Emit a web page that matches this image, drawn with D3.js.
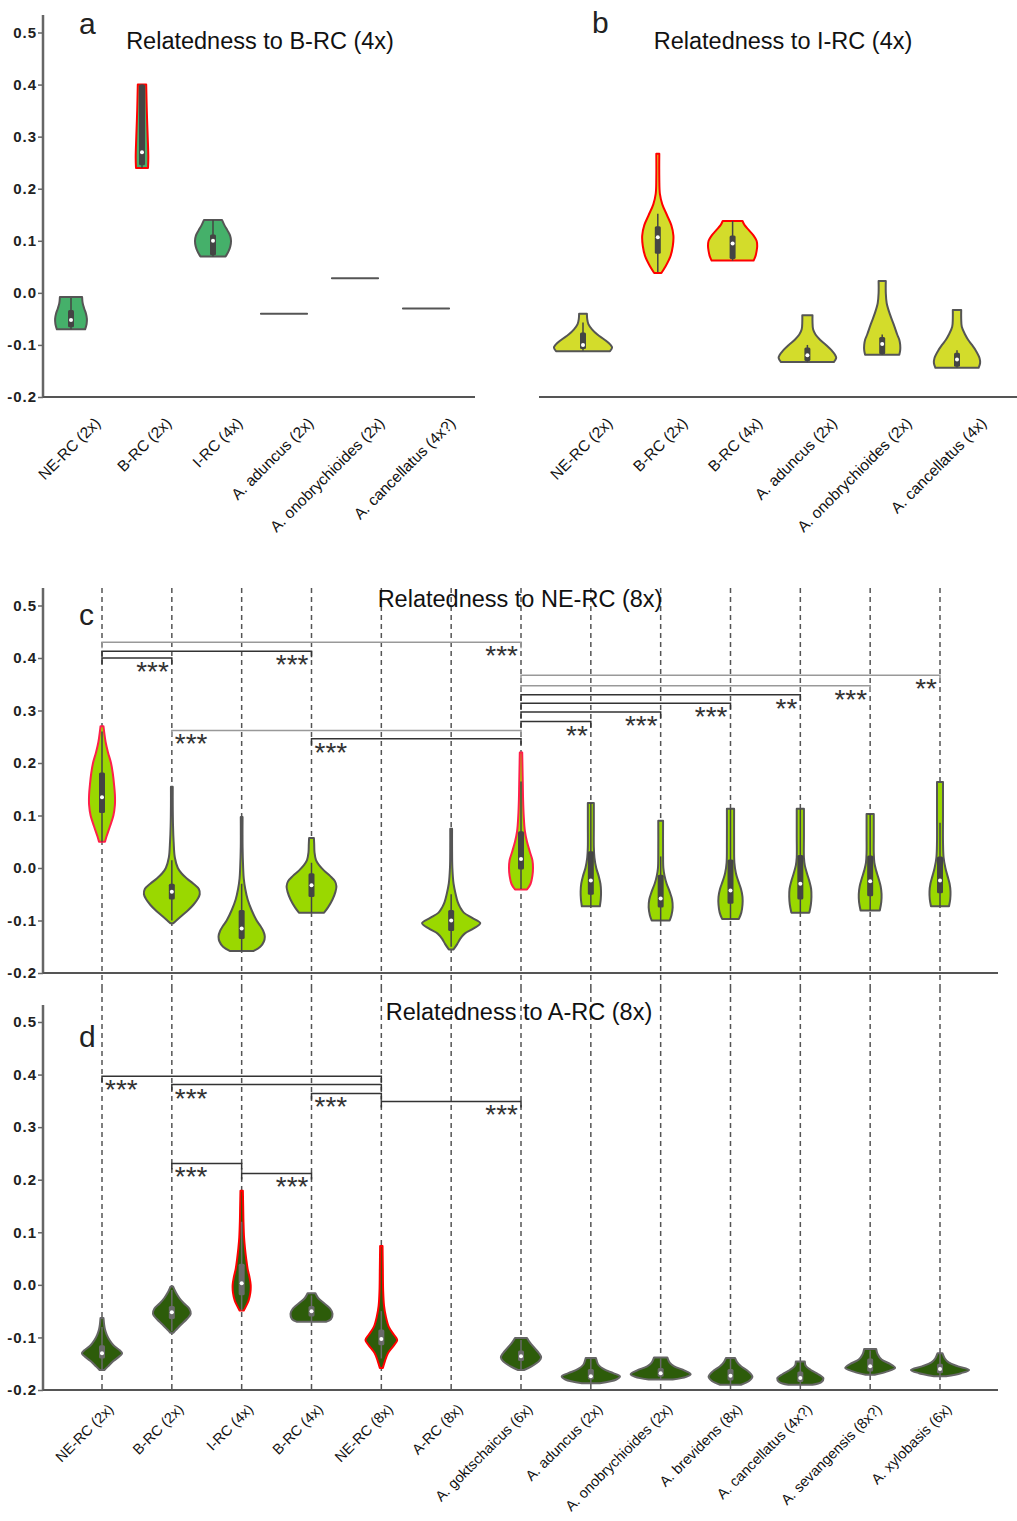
<!DOCTYPE html>
<html>
<head>
<meta charset="utf-8">
<script src="https://cdn.jsdelivr.net/npm/d3@7"></script>
<style>
  body { margin: 0; background: #fff; }
  text { font-family: Arial, "Liberation Sans", sans-serif; }
</style>
</head>
<body>
<svg id="chart" width="1017" height="1521"></svg>
<script>
// ---- data ----
const yTicks = [-0.2, -0.1, 0.0, 0.1, 0.2, 0.3, 0.4, 0.5];

// panel a : relatedness to B-RC (4x)
const aCats = ["NE-RC (2x)", "B-RC (2x)", "I-RC (4x)", "A. aduncus (2x)", "A. onobrychioides (2x)", "A. cancellatus (4x?)"];
const aMed = [-0.052, 0.27, 0.1, -0.04, 0.028, -0.03];
const aQ1 = [-0.066, 0.245, 0.072, null, null, null];
const aQ3 = [-0.033, 0.4, 0.112, null, null, null];
const aLo = [-0.07, 0.24, 0.07, null, null, null];
const aHi = [-0.01, 0.4, 0.14, null, null, null];
const aSelf = [false, true, false, false, false, false];
const aDensity = [
  [[-0.07, 0.47], [-0.06, 0.52], [-0.05, 0.53], [-0.04, 0.5], [-0.03, 0.44], [-0.02, 0.39], [-0.008, 0.37]],
  [[0.24, 0.2], [0.26, 0.21], [0.3, 0.19], [0.35, 0.16], [0.4, 0.14]],
  [[0.07, 0.42], [0.08, 0.52], [0.09, 0.58], [0.1, 0.6], [0.11, 0.57], [0.12, 0.48], [0.13, 0.38], [0.14, 0.3]],
  [[-0.04, 0.77], [-0.04, 0.77]],
  [[0.028, 0.77], [0.028, 0.77]],
  [[-0.03, 0.77], [-0.03, 0.77]]
];

// panel b : relatedness to I-RC (4x)
const bCats = ["NE-RC (2x)", "B-RC (2x)", "B-RC (4x)", "A. aduncus (2x)", "A. onobrychioides (2x)", "A. cancellatus (4x)"];
const bMed = [-0.1, 0.107, 0.095, -0.12, -0.098, -0.128];
const bQ1 = [-0.108, 0.075, 0.065, -0.131, -0.118, -0.142];
const bQ3 = [-0.076, 0.128, 0.11, -0.105, -0.085, -0.115];
const bLo = [-0.111, 0.04, 0.062, -0.133, -0.119, -0.144];
const bHi = [-0.057, 0.152, 0.138, -0.1, -0.08, -0.11];
const bSelf = [false, true, true, false, false, false];
const bDensity = [
  [[-0.112, 0.9], [-0.105, 0.97], [-0.1, 0.92], [-0.09, 0.72], [-0.08, 0.48], [-0.07, 0.3], [-0.06, 0.18], [-0.05, 0.14], [-0.04, 0.13]],
  [[0.038, 0.12], [0.05, 0.25], [0.07, 0.42], [0.09, 0.5], [0.11, 0.52], [0.13, 0.45], [0.15, 0.3], [0.17, 0.15], [0.19, 0.07], [0.22, 0.05], [0.267, 0.05]],
  [[0.062, 0.7], [0.07, 0.76], [0.08, 0.8], [0.09, 0.82], [0.1, 0.8], [0.11, 0.7], [0.12, 0.55], [0.13, 0.4], [0.138, 0.33]],
  [[-0.133, 0.88], [-0.125, 0.96], [-0.12, 0.93], [-0.11, 0.8], [-0.1, 0.62], [-0.09, 0.42], [-0.08, 0.27], [-0.07, 0.19], [-0.055, 0.17], [-0.043, 0.17]],
  [[-0.119, 0.57], [-0.11, 0.6], [-0.1, 0.6], [-0.09, 0.57], [-0.08, 0.5], [-0.06, 0.38], [-0.04, 0.25], [-0.02, 0.15], [0.0, 0.12], [0.023, 0.12]],
  [[-0.144, 0.72], [-0.135, 0.77], [-0.125, 0.75], [-0.11, 0.62], [-0.1, 0.5], [-0.09, 0.37], [-0.08, 0.27], [-0.065, 0.16], [-0.05, 0.14], [-0.033, 0.14]]
];

// panels c and d share the categories
const relCats = ["NE-RC (2x)", "B-RC (2x)", "I-RC (4x)", "B-RC (4x)", "NE-RC (8x)", "A-RC (8x)", "A. goktschaicus (6x)",
  "A. aduncus (2x)", "A. onobrychioides (2x)", "A. brevidens (8x)", "A. cancellatus (4x?)", "A. sevangensis (8x?)", "A. xylobasis (6x)"];

// panel c : relatedness to NE-RC (8x)
const cMed = [0.135, -0.045, -0.115, -0.033, null, -0.1, 0.017, -0.024, -0.058, -0.043, -0.03, -0.025, -0.024];
const cQ1 = [0.105, -0.06, -0.135, -0.055, null, -0.12, -0.003, -0.051, -0.075, -0.068, -0.06, -0.054, -0.048];
const cQ3 = [0.182, -0.03, -0.08, -0.01, null, -0.08, 0.07, 0.032, -0.013, 0.016, 0.025, 0.024, 0.022];
const cLo = [0.05, -0.1, -0.158, -0.085, null, -0.15, -0.04, -0.073, -0.1, -0.097, -0.085, -0.081, -0.073];
const cHi = [0.26, 0.015, -0.03, 0.01, null, -0.05, 0.165, 0.124, 0.022, 0.113, 0.113, 0.103, 0.086];
const cSelf = [true, false, false, false, false, false, true, false, false, false, false, false, false];
const cDensity = [
  [[0.05, 0.1], [0.06, 0.15], [0.08, 0.27], [0.1, 0.38], [0.12, 0.43], [0.14, 0.43], [0.16, 0.4], [0.18, 0.36], [0.2, 0.3], [0.22, 0.2], [0.24, 0.12], [0.26, 0.07], [0.27, 0.05]],
  [[-0.105, 0.05], [-0.1, 0.15], [-0.09, 0.35], [-0.08, 0.55], [-0.07, 0.72], [-0.06, 0.85], [-0.05, 0.93], [-0.04, 0.9], [-0.03, 0.72], [-0.02, 0.5], [-0.01, 0.32], [0.0, 0.2], [0.02, 0.1], [0.05, 0.06], [0.08, 0.04], [0.12, 0.03], [0.155, 0.03]],
  [[-0.158, 0.4], [-0.15, 0.62], [-0.14, 0.74], [-0.13, 0.77], [-0.12, 0.72], [-0.11, 0.62], [-0.1, 0.5], [-0.08, 0.33], [-0.06, 0.2], [-0.04, 0.12], [-0.02, 0.07], [0.0, 0.05], [0.04, 0.03], [0.097, 0.03]],
  [[-0.085, 0.42], [-0.075, 0.55], [-0.06, 0.7], [-0.045, 0.8], [-0.035, 0.83], [-0.025, 0.78], [-0.015, 0.62], [-0.005, 0.42], [0.005, 0.26], [0.015, 0.15], [0.03, 0.1], [0.045, 0.09], [0.057, 0.08]],
  null,
  [[-0.155, 0.08], [-0.145, 0.2], [-0.135, 0.3], [-0.125, 0.45], [-0.115, 0.75], [-0.105, 0.97], [-0.095, 0.7], [-0.085, 0.42], [-0.075, 0.3], [-0.065, 0.22], [-0.05, 0.15], [-0.03, 0.08], [0.0, 0.04], [0.04, 0.03], [0.075, 0.03]],
  [[-0.041, 0.2], [-0.03, 0.32], [-0.015, 0.38], [0.0, 0.4], [0.015, 0.38], [0.03, 0.3], [0.05, 0.2], [0.07, 0.13], [0.1, 0.09], [0.13, 0.07], [0.16, 0.06], [0.19, 0.05], [0.22, 0.04]],
  [[-0.073, 0.3], [-0.06, 0.33], [-0.045, 0.34], [-0.03, 0.32], [-0.015, 0.26], [0.0, 0.18], [0.02, 0.12], [0.04, 0.1], [0.08, 0.1], [0.124, 0.1]],
  [[-0.1, 0.3], [-0.09, 0.36], [-0.075, 0.4], [-0.06, 0.38], [-0.045, 0.3], [-0.03, 0.2], [-0.015, 0.13], [0.0, 0.09], [0.03, 0.08], [0.09, 0.08]],
  [[-0.097, 0.28], [-0.085, 0.36], [-0.07, 0.4], [-0.055, 0.4], [-0.04, 0.35], [-0.025, 0.26], [-0.01, 0.18], [0.01, 0.13], [0.05, 0.12], [0.113, 0.12]],
  [[-0.085, 0.3], [-0.07, 0.35], [-0.055, 0.37], [-0.04, 0.36], [-0.025, 0.3], [-0.01, 0.22], [0.005, 0.15], [0.02, 0.12], [0.06, 0.12], [0.113, 0.12]],
  [[-0.081, 0.32], [-0.065, 0.37], [-0.05, 0.38], [-0.035, 0.35], [-0.02, 0.28], [-0.005, 0.2], [0.01, 0.14], [0.03, 0.12], [0.06, 0.12], [0.103, 0.12]],
  [[-0.073, 0.3], [-0.06, 0.34], [-0.045, 0.35], [-0.03, 0.32], [-0.015, 0.25], [0.0, 0.18], [0.02, 0.12], [0.05, 0.1], [0.1, 0.1], [0.164, 0.1]]
];
// [from, to, height, stars, label side, faint]
const cBrackets = [
  [0, 1, 0.400, "***", "R", false], [0, 3, 0.413, "***", "R", false], [0, 6, 0.430, "***", "R", true],
  [1, 6, 0.262, "***", "L", true], [3, 6, 0.246, "***", "L", false],
  [6, 7, 0.279, "**", "R", false], [6, 8, 0.297, "***", "R", false], [6, 9, 0.314, "***", "R", false],
  [6, 10, 0.330, "**", "R", false], [6, 11, 0.347, "***", "R", true], [6, 12, 0.367, "**", "R", true]
];

// panel d : relatedness to A-RC (8x)
const dMed = [-0.13, -0.052, 0.003, -0.05, -0.103, null, -0.136, -0.174, -0.168, -0.173, -0.177, -0.155, -0.16];
const dQ1 = [-0.14, -0.065, -0.02, -0.06, -0.115, null, -0.145, -0.18, -0.175, -0.182, -0.185, -0.165, -0.168];
const dQ3 = [-0.115, -0.04, 0.04, -0.04, -0.085, null, -0.125, -0.16, -0.158, -0.16, -0.165, -0.14, -0.15];
const dLo = [-0.16, -0.088, -0.049, -0.07, -0.14, null, -0.16, -0.187, -0.18, -0.19, -0.19, -0.171, -0.174];
const dHi = [-0.08, -0.01, 0.12, -0.02, -0.05, null, -0.105, -0.14, -0.14, -0.14, -0.146, -0.125, -0.13];
const dSelf = [false, false, true, false, true, false, false, false, false, false, false, false, false];
const dDensity = [
  [[-0.162, 0.08], [-0.155, 0.2], [-0.145, 0.38], [-0.135, 0.6], [-0.13, 0.67], [-0.125, 0.6], [-0.115, 0.38], [-0.105, 0.25], [-0.095, 0.16], [-0.085, 0.1], [-0.075, 0.07], [-0.063, 0.05]],
  [[-0.091, 0.05], [-0.085, 0.15], [-0.075, 0.32], [-0.065, 0.5], [-0.055, 0.63], [-0.045, 0.58], [-0.035, 0.4], [-0.025, 0.25], [-0.015, 0.14], [-0.008, 0.08], [-0.003, 0.04]],
  [[-0.049, 0.07], [-0.04, 0.15], [-0.03, 0.23], [-0.015, 0.29], [0.0, 0.3], [0.015, 0.26], [0.03, 0.2], [0.05, 0.15], [0.07, 0.11], [0.09, 0.08], [0.12, 0.06], [0.15, 0.05], [0.179, 0.04]],
  [[-0.07, 0.5], [-0.065, 0.65], [-0.055, 0.7], [-0.045, 0.62], [-0.035, 0.42], [-0.025, 0.22], [-0.016, 0.13]],
  [[-0.158, 0.05], [-0.145, 0.12], [-0.13, 0.22], [-0.115, 0.42], [-0.105, 0.53], [-0.095, 0.42], [-0.08, 0.25], [-0.06, 0.15], [-0.04, 0.09], [-0.01, 0.06], [0.03, 0.05], [0.074, 0.04]],
  null,
  [[-0.162, 0.1], [-0.155, 0.35], [-0.145, 0.6], [-0.138, 0.67], [-0.13, 0.6], [-0.12, 0.45], [-0.11, 0.3], [-0.101, 0.2]],
  [[-0.187, 0.3], [-0.18, 0.85], [-0.174, 0.97], [-0.168, 0.75], [-0.16, 0.42], [-0.152, 0.25], [-0.145, 0.2], [-0.139, 0.17]],
  [[-0.18, 0.4], [-0.175, 0.85], [-0.17, 1.0], [-0.163, 0.8], [-0.155, 0.45], [-0.148, 0.3], [-0.138, 0.22]],
  [[-0.19, 0.35], [-0.183, 0.62], [-0.175, 0.73], [-0.165, 0.6], [-0.155, 0.35], [-0.147, 0.22], [-0.139, 0.15]],
  [[-0.19, 0.4], [-0.185, 0.7], [-0.178, 0.77], [-0.17, 0.6], [-0.162, 0.35], [-0.154, 0.18], [-0.146, 0.15]],
  [[-0.171, 0.15], [-0.165, 0.55], [-0.158, 0.83], [-0.15, 0.65], [-0.142, 0.38], [-0.132, 0.25], [-0.122, 0.2]],
  [[-0.174, 0.2], [-0.168, 0.7], [-0.162, 0.97], [-0.155, 0.6], [-0.148, 0.3], [-0.14, 0.16], [-0.13, 0.08]]
];
const dBrackets = [
  [0, 4, 0.397, "***", "L", false], [1, 4, 0.381, "***", "L", false], [3, 4, 0.364, "***", "L", false],
  [4, 6, 0.349, "***", "R", false], [1, 2, 0.231, "***", "L", false], [2, 3, 0.212, "***", "R", false]
];

// ---- drawing ----
const svg = d3.select("#chart");
svg.append("rect").attr("width", 1017).attr("height", 1521).attr("fill", "#fff");

const halfW = d3.scaleLinear().domain([0, 1]).range([0, 30]);

const yA = d3.scaleLinear().domain([-0.2, 0.5]).range([397, 32.5]);
const yC = d3.scaleLinear().domain([-0.2, 0.5]).range([973, 605.5]);
const yD = d3.scaleLinear().domain([-0.2, 0.5]).range([1390, 1022]);

const xA = d3.scalePoint().domain(aCats).range([71, 426]);
const xB = d3.scalePoint().domain(bCats).range([583, 957]);
const xR = d3.scalePoint().domain(relCats).range([102, 940]);

function yAxis(y, top) {
  svg.append("line")
    .attr("x1", 43).attr("x2", 43).attr("y1", top).attr("y2", y(-0.2))
    .attr("stroke", "#666").attr("stroke-width", 2.5);
  let g = svg.append("g").attr("transform", "translate(43,0)")
    .call(d3.axisLeft(y).tickValues(yTicks).tickSize(5).tickPadding(1).tickFormat(d => d.toFixed(1)));
  g.select(".domain").remove();
  g.selectAll(".tick line").attr("stroke", "#666").attr("stroke-width", 1.5);
  g.selectAll(".tick text")
    .attr("fill", "#222").style("font-size", "15px").style("font-weight", "bold")
    .style("letter-spacing", "1px").style("font-family", "Arial, 'Liberation Sans', sans-serif");
}

function xAxis(x, yPos, x1, x2, labels, dx, dy, size) {
  svg.append("line")
    .attr("x1", x1).attr("x2", x2).attr("y1", yPos).attr("y2", yPos)
    .attr("stroke", "#555").attr("stroke-width", 2);
  if (!labels) return;
  let g = svg.append("g").attr("transform", "translate(0," + yPos + ")")
    .call(d3.axisBottom(x).tickSize(0));
  g.select(".domain").remove();
  g.selectAll(".tick text")
    .attr("x", 0).attr("y", 0).attr("dy", 0)
    .attr("text-anchor", "end")
    .attr("transform", "translate(" + dx + "," + dy + ") rotate(-45)")
    .attr("fill", "#111").style("font-size", size + "px")
    .style("font-family", "Arial, 'Liberation Sans', sans-serif");
}

function violins(x, y, cats, dens, q1, med, q3, lo, hi, self, style) {
  let g = svg.append("g");
  cats.forEach((c, i) => {
    if (!dens[i]) return;
    const cx = x(c);
    const area = d3.area()
      .curve(d3.curveCatmullRom.alpha(0.5))
      .y(d => y(d[0]))
      .x0(d => cx - halfW(d[1]))
      .x1(d => cx + halfW(d[1]));
    g.append("path")
      .attr("d", area(dens[i]))
      .attr("fill", style.fill)
      .attr("stroke", self[i] ? style.red : style.line)
      .attr("stroke-width", 2)
      .attr("stroke-linejoin", "round");
    if (q1[i] == null) return;
    g.append("line")
      .attr("x1", cx).attr("x2", cx).attr("y1", y(lo[i])).attr("y2", y(hi[i]))
      .attr("stroke", style.box).attr("stroke-width", 1.5);
    g.append("rect")
      .attr("x", cx - 3).attr("width", 6)
      .attr("y", y(q3[i])).attr("height", y(q1[i]) - y(q3[i]))
      .attr("rx", 1.5).attr("fill", style.box);
    g.append("circle")
      .attr("cx", cx).attr("cy", y(med[i])).attr("r", 2).attr("fill", "#fff");
  });
}

function brackets(x, y, list) {
  let g = svg.append("g");
  list.forEach(b => {
    const x1 = x(relCats[b[0]]), x2 = x(relCats[b[1]]), yy = y(b[2]);
    g.append("path")
      .attr("d", "M" + x1 + "," + (yy + 6) + "V" + yy + "H" + x2 + "V" + (yy + 6))
      .attr("fill", "none")
      .attr("stroke", b[5] ? "#999" : "#333")
      .attr("stroke-width", 1.5);
    g.append("text")
      .attr("x", b[4] === "R" ? x2 - 3 : x1 + 3)
      .attr("y", yy + 23)
      .attr("text-anchor", b[4] === "R" ? "end" : "start")
      .attr("fill", "#333")
      .style("font-size", "28px")
      .text(b[3]);
  });
}

function dashed(x, top, bottom) {
  svg.append("g").selectAll("line").data(relCats).join("line")
    .attr("x1", d => x(d)).attr("x2", d => x(d))
    .attr("y1", top).attr("y2", bottom)
    .attr("stroke", "#555").attr("stroke-width", 1.5)
    .attr("stroke-dasharray", "5,4");
}

function title(txt, cx, cy) {
  svg.append("text").attr("x", cx).attr("y", cy).attr("text-anchor", "middle")
    .attr("fill", "#111").style("font-size", "23.5px").text(txt);
}
function letter(txt, lx, ly) {
  svg.append("text").attr("x", lx).attr("y", ly).attr("fill", "#222")
    .style("font-size", "30px").text(txt);
}

// panel a
yAxis(yA, 15);
xAxis(xA, yA(-0.2), 43, 475, true, 30, 27, 15.5);
violins(xA, yA, aCats, aDensity, aQ1, aMed, aQ3, aLo, aHi, aSelf,
  { fill: "#45b06a", line: "#555", red: "#ff0000", box: "#444" });
title("Relatedness to B-RC (4x)", 260, 49);
letter("a", 79, 34);

// panel b
xAxis(xB, yA(-0.2), 539, 1017, true, 30, 27, 15.5);
violins(xB, yA, bCats, bDensity, bQ1, bMed, bQ3, bLo, bHi, bSelf,
  { fill: "#d3dc2b", line: "#555", red: "#ff0000", box: "#444" });
title("Relatedness to I-RC (4x)", 783, 49);
letter("b", 592, 33);

// panel c
dashed(xR, 588, 988);
yAxis(yC, 588);
xAxis(xR, yC(-0.2), 43, 998, false);
brackets(xR, yC, cBrackets);
violins(xR, yC, relCats, cDensity, cQ1, cMed, cQ3, cLo, cHi, cSelf,
  { fill: "#9ad800", line: "#555", red: "#ff1f4a", box: "#444" });
title("Relatedness to NE-RC (8x)", 520, 607);
letter("c", 79, 625);

// panel d
dashed(xR, 988, 1390);
yAxis(yD, 1005);
xAxis(xR, yD(-0.2), 43, 998, true, 12, 20, 14.5);
brackets(xR, yD, dBrackets);
violins(xR, yD, relCats, dDensity, dQ1, dMed, dQ3, dLo, dHi, dSelf,
  { fill: "#2d5c0a", line: "#666", red: "#ff0000", box: "#6a6a6a" });
title("Relatedness to A-RC (8x)", 519, 1020);
letter("d", 79, 1047);
</script>
</body>
</html>
